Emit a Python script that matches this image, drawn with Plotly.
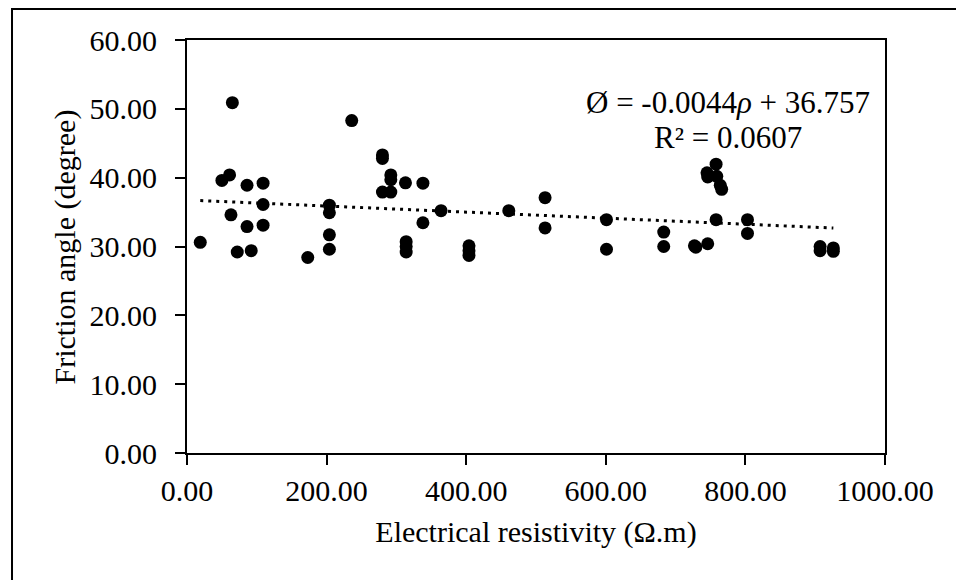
import plotly.graph_objects as go

resistivity = [19, 65, 50, 61, 63, 72, 86, 86, 92, 109, 109, 109, 173,
               204, 204, 204, 204, 236, 280, 280, 280, 292, 292, 292,
               313, 314, 314, 314, 338, 338, 364, 404, 404, 404,
               461, 513, 513, 601, 601, 683, 683, 727, 729, 746,
               758, 745, 746, 759, 764, 766, 758, 803, 803,
               907, 907, 926, 926]
friction = [30.6, 50.9, 39.6, 40.4, 34.6, 29.2, 38.9, 32.9, 29.4, 39.2, 36.1, 33.1, 28.4,
            36.0, 34.9, 31.7, 29.6, 48.3, 43.3, 42.8, 37.9, 37.9, 40.4, 39.7,
            39.25, 30.7, 30.0, 29.2, 39.2, 33.45, 35.2, 30.1, 29.4, 28.7,
            35.2, 37.1, 32.7, 33.9, 29.6, 32.1, 30.0, 30.1, 29.9, 30.4,
            41.96, 40.7, 40.1, 40.2, 38.9, 38.3, 33.9, 33.9, 31.9,
            30.0, 29.4, 29.8, 29.3]

slope = -0.0044
intercept = 36.757
r_squared = 0.0607

x_ticks = [0, 200, 400, 600, 800, 1000]
y_ticks = [0, 10, 20, 30, 40, 50, 60]

FONT = "Liberation Serif"

trend_x = [min(resistivity), max(resistivity)]
trend_y = [slope * v + intercept for v in trend_x]

fig = go.Figure()
fig.add_trace(go.Scatter(
    x=trend_x, y=trend_y, mode="lines",
    line=dict(color="black", width=3, dash="3px,5px"),
    hoverinfo="skip", showlegend=False))
fig.add_trace(go.Scatter(
    x=resistivity, y=friction, mode="markers",
    marker=dict(color="black", size=13, line=dict(width=0)),
    showlegend=False))

fig.update_layout(
    width=956, height=580,
    margin=dict(l=187, r=71, t=40, b=127),
    paper_bgcolor="white", plot_bgcolor="white",
    font=dict(family=FONT, size=30, color="black"),
    showlegend=False,
)
fig.update_xaxes(
    range=[0, 1000], tickvals=x_ticks, tickformat=".2f",
    showgrid=False, zeroline=False,
    showline=True, linecolor="black", linewidth=2, mirror=True,
    ticks="outside", ticklen=10, tickwidth=2, tickcolor="black",
    tickfont=dict(family=FONT, size=30),
    title=dict(text="Electrical resistivity (Ω.m)", font=dict(family=FONT, size=30), standoff=15),
)
fig.update_yaxes(
    range=[0, 60], tickvals=y_ticks, tickformat=".2f",
    showgrid=False, zeroline=False,
    showline=True, linecolor="black", linewidth=2, mirror=True,
    ticks="outside", ticklen=10, tickwidth=2, tickcolor="black",
    ticklabelstandoff=12,
    tickfont=dict(family=FONT, size=30),
)

fig.add_annotation(
    xref="paper", yref="paper", x=-0.1748, y=0.5,
    text="Friction angle (degree)", textangle=-90,
    showarrow=False, xanchor="center", yanchor="middle",
    font=dict(family=FONT, size=30, color="black"))

fig.add_annotation(
    xref="paper", yref="paper", x=0.775, y=0.8475,
    text=f"Ø = {slope}<i>ρ</i> + {intercept}",
    showarrow=False, xanchor="center", yanchor="middle",
    font=dict(family=FONT, size=31, color="black"))
fig.add_annotation(
    xref="paper", yref="paper", x=0.775, y=0.765,
    text=f"R² = {r_squared}",
    showarrow=False, xanchor="center", yanchor="middle",
    font=dict(family=FONT, size=31, color="black"))

fig.add_shape(type="rect", xref="paper", yref="paper",
              x0=-0.2507, x1=1.12, y0=-0.35, y1=1.075,
              line=dict(color="black", width=2), fillcolor="rgba(0,0,0,0)",
              layer="above")

fig.write_html("out.html")
